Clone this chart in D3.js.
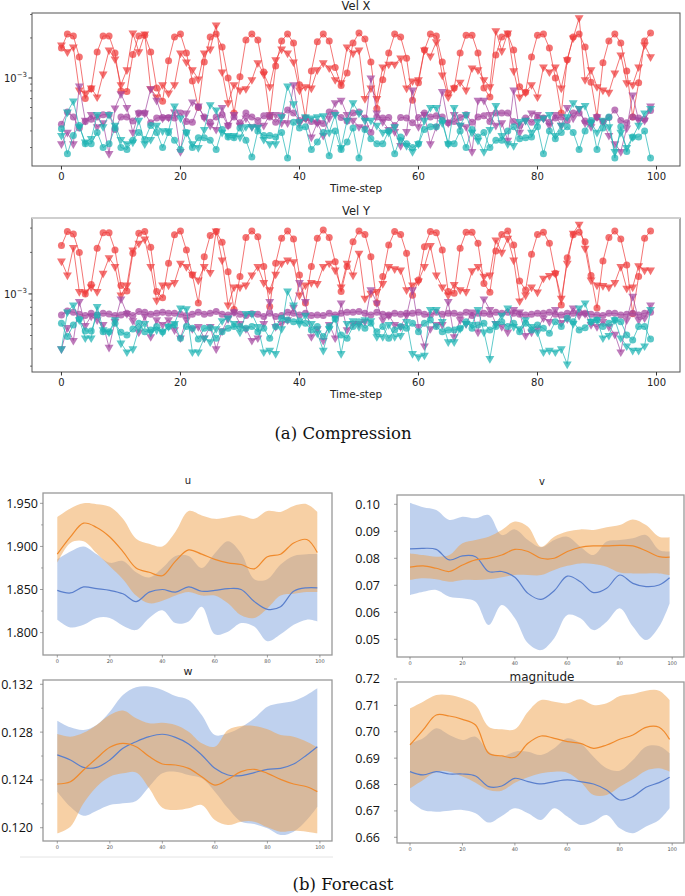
<!DOCTYPE html>
<html><head><meta charset="utf-8">
<script src="https://cdn.jsdelivr.net/npm/d3@7"></script>
<style>body{margin:0;background:#fff}</style>
</head><body>
<svg id="c" width="685" height="896" xmlns="http://www.w3.org/2000/svg"></svg>
<script>
// ---------------- DATA (values in units of 1e-3 for compression panels) ----------------
const timeSteps = d3.range(100);
const xTicksTop = [0, 20, 40, 60, 80, 100];

const redCircX = [1.68,2.14,2.07,1.44,0.70,0.83,1.57,2.07,2.07,1.54,0.80,0.79,1.50,2.07,2.10,1.57,0.84,0.67,1.35,2.03,2.14,1.54,0.95,0.60,1.32,2.03,2.14,1.71,1.0,0.545,1.02,1.93,2.14,1.93,1.11,0.52,1.23,1.90,2.14,1.83,0.89,0.50,1.13,1.87,2.14,1.90,1.20,
0.88,1.09,1.83,2.18,1.96,1.32,0.59,0.97,1.54,2.14,2.03,1.41,0.68,0.92,1.62,2.14,2.07,1.32,0.77,0.84,1.54,2.10,2.10,1.54,0.84,0.72,1.49,2.03,2.14,1.62,0.86,0.78,1.44,2.10,2.14,1.68,1.0,0.545,1.37,2.03,2.14,1.71,0.93,0.51,1.30,1.90,2.14,1.83,1.13,0.51,0.92,1.90,2.18];
const redTriX = [1.77,1.57,1.71,0.81,0.77,0.84,0.72,1.07,1.62,1.39,0.89,1.15,2.18,1.57,2.14,0.83,0.72,0.89,0.77,0.89,1.54,1.32,1.15,0.98,1.54,1.65,2.5,1.11,0.65,0.89,0.81,0.83,0.97,1.30,1.07,0.86,1.37,1.65,1.54,1.32,0.81,0.86,0.84,1.15,1.30,1.19,0.97,
0.92,1.71,1.54,1.62,0.70,0.84,0.70,1.21,1.27,1.27,1.41,0.84,0.95,0.97,1.62,1.46,1.87,1.05,0.72,0.84,0.93,0.81,1.19,1.15,0.97,0.86,2.26,1.60,2.18,1.13,0.72,0.78,0.89,0.72,1.21,1.11,1.21,0.84,1.37,2.0,2.83,0.97,1.15,0.86,0.81,0.78,1.09,1.49,0.92,0.89,1.21,1.77,1.44];
const purpCircX = [0.45,0.555,0.51,0.42,0.47,0.49,0.51,0.53,0.53,0.41,0.51,0.51,0.475,0.545,0.545,0.46,0.50,0.505,0.505,0.50,0.545,0.47,0.465,0.605,0.51,0.465,0.51,0.53,0.44,0.51,0.46,0.545,0.51,0.48,0.52,0.51,0.465,0.52,0.575,0.545,0.48,0.50,0.47,0.465,0.455,0.555,0.545,
0.505,0.475,0.545,0.555,0.50,0.39,0.51,0.50,0.505,0.44,0.505,0.50,0.46,0.505,0.545,0.51,0.52,0.51,0.46,0.47,0.505,0.53,0.465,0.51,0.52,0.47,0.545,0.545,0.545,0.47,0.44,0.50,0.465,0.505,0.50,0.465,0.50,0.51,0.48,0.545,0.545,0.475,0.465,0.51,0.47,0.505,0.575,0.48,0.46,0.51,0.50,0.49,0.57];
const purpTriX = [0.32,0.39,0.32,0.87,0.48,0.53,0.43,0.46,0.27,0.595,0.76,0.60,0.39,0.545,0.545,0.83,0.68,0.50,0.505,0.555,0.28,0.545,0.66,0.615,0.505,0.44,0.41,0.60,0.44,0.53,0.44,0.50,0.43,0.435,0.44,0.53,0.53,0.46,0.46,0.89,0.46,0.50,0.36,0.46,0.37,0.50,0.65,
0.68,0.53,0.48,0.43,0.42,1.0,0.545,0.47,0.41,0.395,0.31,0.395,0.81,0.43,0.53,0.32,0.43,0.79,0.46,0.53,0.44,0.43,0.28,0.68,0.68,0.53,0.44,0.46,0.34,0.81,0.39,0.48,0.545,0.53,0.50,0.44,0.53,0.44,0.60,0.50,0.59,0.46,0.43,0.51,0.47,0.37,0.32,0.28,0.42,0.745,0.48,0.48,0.615];
const cyanCircX = [0.415,0.27,0.37,0.44,0.32,0.32,0.39,0.30,0.32,0.42,0.30,0.29,0.34,0.39,0.345,0.44,0.39,0.30,0.39,0.34,0.29,0.39,0.30,0.355,0.355,0.34,0.29,0.41,0.36,0.355,0.42,0.34,0.255,0.40,0.37,0.37,0.36,0.39,0.25,0.465,0.42,0.43,0.29,0.33,0.39,0.26,0.40,
0.29,0.33,0.42,0.25,0.41,0.35,0.32,0.32,0.40,0.27,0.36,0.32,0.30,0.32,0.41,0.43,0.43,0.48,0.32,0.32,0.40,0.30,0.41,0.36,0.39,0.30,0.34,0.34,0.40,0.43,0.35,0.355,0.36,0.43,0.27,0.40,0.35,0.39,0.43,0.39,0.29,0.40,0.48,0.29,0.42,0.51,0.25,0.43,0.28,0.36,0.36,0.40,0.25];
const cyanTriX = [0.37,0.555,0.67,0.43,0.33,0.35,0.53,0.43,0.53,0.44,0.345,0.32,0.33,0.48,0.32,0.345,0.44,0.40,0.40,0.615,0.50,0.39,0.32,0.30,0.41,0.63,0.575,0.39,0.37,0.37,0.36,0.43,0.43,0.425,0.345,0.32,0.32,0.51,0.87,0.64,0.47,0.51,0.50,0.51,0.52,0.39,0.53,
0.30,0.48,0.65,0.545,0.48,0.48,0.44,0.39,0.39,0.43,0.34,0.31,0.28,0.32,0.48,0.60,0.60,0.46,0.32,0.60,0.44,0.53,0.39,0.34,0.28,0.41,0.62,0.37,0.32,0.31,0.47,0.48,0.39,0.47,0.50,0.53,0.37,0.44,0.51,0.65,0.59,0.62,0.46,0.39,0.48,0.43,0.28,0.39,0.30,0.36,0.44,0.545,0.59];

const redCircY = [2.24,2.83,2.72,2.0,1.0,1.17,2.14,2.78,2.78,2.08,1.15,1.05,1.97,2.75,2.83,2.18,1.04,0.94,1.67,2.68,2.86,2.08,1.37,0.86,1.86,2.65,2.83,2.37,1.45,0.77,1.34,2.56,2.86,2.60,1.58,0.81,1.67,2.53,2.86,2.50,1.37,0.86,1.58,2.53,2.90,2.56,1.71,
1.04,1.58,2.39,2.86,2.70,1.86,0.86,1.34,2.26,2.83,2.70,1.97,0.98,1.26,2.20,2.83,2.78,2.08,1.04,1.01,2.14,2.80,2.80,2.33,1.19,1.03,2.05,2.70,2.86,2.26,1.24,1.07,1.94,2.70,2.80,2.33,1.41,0.83,1.83,2.68,2.80,2.39,1.36,0.79,1.73,2.56,2.86,2.50,1.62,0.72,1.34,2.53,2.86];
const redTriY = [1.73,1.37,2.17,1.04,1.03,1.12,1.04,1.41,1.83,1.58,0.98,1.16,2.08,2.33,2.50,1.58,0.90,1.16,1.16,1.21,1.67,1.58,1.39,1.26,1.58,1.43,2.86,1.76,0.83,1.12,1.12,1.16,1.37,1.58,1.21,1.07,1.39,1.67,1.76,1.71,0.98,1.16,1.21,1.19,1.58,1.67,1.49,
1.12,1.67,1.37,1.97,0.93,1.01,1.04,1.19,1.58,1.52,1.49,1.07,1.16,1.24,1.58,2.24,1.37,1.12,0.98,1.17,1.07,1.04,1.47,1.58,1.34,1.37,2.46,2.0,2.53,1.76,0.89,0.98,1.12,1.03,1.30,1.36,1.41,0.93,1.67,2.75,3.2,2.14,1.26,1.16,1.15,1.12,1.21,1.58,1.10,1.12,1.60,1.49,1.49];
const purpCircY = [0.705,0.753,0.737,0.712,0.697,0.724,0.705,0.724,0.716,0.697,0.705,0.724,0.697,0.745,0.737,0.712,0.724,0.737,0.724,0.724,0.712,0.697,0.712,0.737,0.712,0.724,0.745,0.712,0.705,0.737,0.712,0.697,0.72,0.712,0.686,0.724,0.686,0.697,0.737,0.724,0.705,0.724,0.697,0.705,0.697,0.724,0.705,
0.724,0.737,0.737,0.745,0.724,0.705,0.737,0.712,0.705,0.724,0.712,0.724,0.724,0.737,0.712,0.705,0.737,0.712,0.724,0.724,0.705,0.737,0.697,0.724,0.724,0.712,0.737,0.724,0.737,0.724,0.712,0.705,0.712,0.724,0.724,0.737,0.712,0.705,0.724,0.724,0.737,0.724,0.712,0.705,0.697,0.724,0.724,0.705,0.712,0.724,0.705,0.724,0.737];
const purpTriY = [0.40,0.57,0.46,0.88,0.59,0.69,0.65,0.60,0.41,0.63,0.92,0.72,0.64,0.53,0.69,0.49,0.65,0.60,0.65,0.55,0.48,0.65,0.56,0.58,0.48,0.58,0.40,0.54,0.66,0.74,0.61,0.56,0.46,0.48,0.61,0.88,0.58,0.61,0.65,0.80,1.21,0.88,0.49,0.56,0.46,0.60,0.48,
0.86,0.55,0.61,0.61,0.63,1.07,0.86,0.65,0.70,0.60,0.58,0.70,1.07,0.58,0.42,0.56,0.60,0.60,0.88,0.49,0.65,0.61,0.74,0.53,0.92,0.77,0.61,0.58,0.53,0.77,0.74,0.50,0.53,0.56,0.67,0.63,0.77,0.62,0.66,0.79,0.70,0.72,0.60,0.58,0.63,0.58,0.51,0.38,0.65,0.96,0.65,0.67,0.83];
const cyanCircY = [0.613,0.491,0.596,0.659,0.539,0.539,0.705,0.533,0.533,0.613,0.527,0.505,0.557,0.613,0.533,0.548,0.580,0.533,0.580,0.596,0.477,0.580,0.564,0.472,0.564,0.570,0.477,0.533,0.564,0.580,0.580,0.564,0.580,0.533,0.564,0.477,0.580,0.667,0.648,0.630,0.637,0.613,0.548,0.580,0.491,0.580,0.659,
0.505,0.477,0.580,0.630,0.564,0.613,0.533,0.580,0.477,0.548,0.580,0.564,0.613,0.533,0.613,0.648,0.580,0.533,0.548,0.548,0.564,0.630,0.564,0.596,0.613,0.548,0.580,0.630,0.580,0.613,0.533,0.613,0.548,0.596,0.564,0.519,0.630,0.580,0.667,0.630,0.548,0.570,0.630,0.648,0.580,0.613,0.648,0.630,0.505,0.464,0.580,0.580,0.472];
const cyanTriY = [0.40,0.74,0.83,0.65,0.48,0.48,0.81,0.55,0.53,0.65,0.44,0.38,0.40,0.56,0.61,0.53,0.55,0.53,0.58,0.61,0.79,0.78,0.38,0.38,0.48,0.45,0.56,0.64,0.67,0.61,0.53,0.72,0.72,0.58,0.38,0.39,0.37,0.56,1.05,0.83,0.61,0.70,0.61,0.52,0.39,0.56,0.67,
0.37,0.61,0.64,0.58,0.65,0.64,0.49,0.49,0.60,0.49,0.50,0.63,0.37,0.35,0.36,0.77,0.77,0.63,0.45,0.45,0.56,0.61,0.60,0.77,0.53,0.34,0.61,0.70,0.79,0.58,0.56,0.65,0.58,0.53,0.38,0.39,0.38,0.40,0.31,0.61,0.79,0.86,0.63,0.65,0.48,0.50,0.65,0.48,0.42,0.39,0.39,0.42,0.77];

// ---------------- Forecast data ----------------
const fcSteps = [0,5,10,15,20,25,30,35,40,45,50,55,60,65,70,75,80,85,90,95,99];
const fcTicks = [0,20,40,60,80,100];

const uOrange   = [1.891,1.911,1.927,1.922,1.911,1.894,1.875,1.870,1.866,1.883,1.896,1.891,1.885,1.881,1.879,1.874,1.888,1.891,1.904,1.908,1.893];
const uOrangeHi = [1.934,1.944,1.950,1.949,1.946,1.932,1.909,1.903,1.900,1.917,1.941,1.936,1.932,1.934,1.936,1.932,1.941,1.940,1.947,1.949,1.940];
const uOrangeLo = [1.881,1.904,1.906,1.892,1.877,1.862,1.843,1.834,1.837,1.843,1.847,1.843,1.843,1.834,1.820,1.817,1.828,1.843,1.845,1.847,1.847];
const uBlue     = [1.849,1.846,1.853,1.851,1.849,1.845,1.836,1.847,1.850,1.847,1.853,1.848,1.849,1.851,1.850,1.836,1.827,1.830,1.848,1.852,1.852];
const uBlueHi   = [1.885,1.894,1.900,1.891,1.881,1.883,1.870,1.864,1.875,1.889,1.889,1.875,1.892,1.906,1.892,1.862,1.862,1.879,1.889,1.891,1.891];
const uBlueLo   = [1.815,1.806,1.809,1.817,1.817,1.808,1.803,1.817,1.826,1.811,1.813,1.830,1.798,1.801,1.811,1.807,1.790,1.798,1.809,1.815,1.813];

const vOrange   = [0.0767,0.0772,0.0763,0.0751,0.0775,0.0794,0.0800,0.0812,0.0833,0.0825,0.0800,0.0800,0.0825,0.0841,0.0846,0.0846,0.0848,0.0846,0.0828,0.0806,0.0804];
const vOrangeHi = [0.0818,0.0812,0.0806,0.0812,0.0856,0.0868,0.0880,0.0905,0.0936,0.0917,0.0843,0.0880,0.0899,0.0907,0.0905,0.0915,0.0923,0.0944,0.0923,0.0880,0.0878];
const vOrangeLo = [0.0720,0.0726,0.0722,0.0713,0.0720,0.0720,0.0722,0.0730,0.0738,0.0738,0.0738,0.0757,0.0772,0.0781,0.0779,0.0769,0.0747,0.0744,0.0744,0.0744,0.0738];
const vBlue     = [0.0835,0.0837,0.0833,0.0794,0.0809,0.0806,0.0751,0.0751,0.0730,0.0670,0.0648,0.0680,0.0734,0.0713,0.0673,0.0689,0.0738,0.0707,0.0695,0.0701,0.0728];
const vBlueHi   = [0.1006,0.0989,0.0979,0.0942,0.0954,0.0948,0.0960,0.0886,0.0907,0.0868,0.0841,0.0868,0.0880,0.0843,0.0812,0.0862,0.0868,0.0874,0.0886,0.0831,0.0825];
const vBlueLo   = [0.0664,0.0676,0.0683,0.0658,0.0652,0.0639,0.0553,0.0627,0.0578,0.0485,0.0460,0.0504,0.0590,0.0578,0.0534,0.0565,0.0615,0.0547,0.0497,0.0547,0.0633];

const wOrange   = [0.12366,0.12385,0.12483,0.12581,0.12673,0.12706,0.12678,0.12595,0.12533,0.12525,0.12497,0.12427,0.12357,0.12405,0.12469,0.12489,0.12455,0.12405,0.12366,0.12343,0.12302];
const wOrangeHi = [0.12784,0.12762,0.12795,0.12860,0.12943,0.12980,0.12915,0.12874,0.12879,0.12860,0.12804,0.12706,0.12678,0.12818,0.12851,0.12851,0.12823,0.12776,0.12762,0.12720,0.12673];
const wOrangeLo = [0.11953,0.12009,0.12204,0.12343,0.12427,0.12455,0.12463,0.12330,0.12168,0.12148,0.12162,0.12190,0.12064,0.12023,0.12051,0.12051,0.12003,0.11967,0.11975,0.11967,0.11953];
const wBlue     = [0.12609,0.12567,0.12505,0.12505,0.12567,0.12664,0.12720,0.12762,0.12782,0.12756,0.12701,0.12609,0.12497,0.12441,0.12436,0.12461,0.12489,0.12497,0.12533,0.12609,0.12678];
const wBlueHi   = [0.12896,0.12840,0.12818,0.12860,0.12971,0.13111,0.13175,0.13181,0.13153,0.13102,0.13069,0.12943,0.12776,0.12790,0.12840,0.12915,0.13013,0.13041,0.13060,0.13111,0.13167];
const wBlueLo   = [0.12302,0.12176,0.12101,0.12143,0.12190,0.12204,0.12224,0.12343,0.12455,0.12469,0.12441,0.12413,0.12302,0.12162,0.12051,0.12031,0.11995,0.11939,0.11967,0.12064,0.12176];

const mOrange   = [0.69499,0.70068,0.70636,0.70598,0.70472,0.70257,0.69184,0.69083,0.69032,0.69562,0.69840,0.69752,0.69626,0.69562,0.69373,0.69499,0.69714,0.69878,0.70169,0.70169,0.69714];
const mOrangeHi = [0.70889,0.71141,0.71394,0.71394,0.71267,0.71015,0.70194,0.70093,0.70093,0.70762,0.71204,0.71141,0.71078,0.71230,0.71015,0.71078,0.71356,0.71432,0.71558,0.71558,0.71204];
const mOrangeLo = [0.67857,0.68173,0.68489,0.68489,0.68300,0.68072,0.67794,0.67769,0.68072,0.68274,0.68426,0.68489,0.68451,0.68110,0.67605,0.67605,0.67920,0.68198,0.68527,0.68615,0.68489];
const mBlue     = [0.68489,0.68363,0.68489,0.68400,0.68400,0.68325,0.67920,0.67946,0.68236,0.68110,0.68022,0.68110,0.68173,0.68110,0.68022,0.67794,0.67415,0.67542,0.67895,0.68072,0.68274];
const mBlueHi   = [0.69562,0.69752,0.70131,0.69878,0.69689,0.69815,0.69247,0.69057,0.69247,0.69247,0.69120,0.69373,0.69752,0.69562,0.69057,0.68615,0.68527,0.68931,0.69436,0.69461,0.69184];
const mBlueLo   = [0.67390,0.67036,0.66973,0.67011,0.67036,0.66910,0.66557,0.66809,0.67099,0.66910,0.66658,0.67099,0.66784,0.66468,0.66594,0.66847,0.66342,0.66152,0.66405,0.66658,0.67099];

// ---------------- DRAWING ----------------
const svg = d3.select('#c');
const RED = '#ee3b3b', PURPLE = '#a3479f', CYAN = '#1db3b3';
const SANS = 'DejaVu Sans, sans-serif';

function topPanel(o) {
  const g = svg.append('g');
  const x = d3.scaleLinear().domain([-4.95, 103.95]).range([o.x0, o.x1]);
  const y = d3.scaleLog().domain(o.yDom).range([o.y1, o.y0]);
  const series = [
    {v: o.rc, c: RED, s: 'o'}, {v: o.rt, c: RED, s: 'v'},
    {v: o.pc, c: PURPLE, s: 'o'}, {v: o.pt, c: PURPLE, s: 'v'},
    {v: o.cc, c: CYAN, s: 'o'}, {v: o.ct, c: CYAN, s: 'v'}
  ];
  const line = d3.line().x((d, i) => x(timeSteps[i])).y(d => y(d * 1e-3));
  const tri = d3.symbol(d3.symbolTriangle, 34);
  series.forEach(s => {
    g.append('path').attr('d', line(s.v)).attr('fill', 'none')
      .attr('stroke', s.c).attr('stroke-width', 1).attr('stroke-opacity', 0.7);
    const m = g.append('g').attr('fill', s.c).attr('fill-opacity', 0.72);
    s.v.forEach((d, i) => {
      const px = x(timeSteps[i]), py = y(d * 1e-3);
      if (s.s === 'o') m.append('circle').attr('cx', px).attr('cy', py).attr('r', 3.5);
      else m.append('path').attr('d', tri()).attr('transform', `translate(${px},${py}) rotate(180)`);
    });
  });
  // frame
  g.append('rect').attr('x', o.x0).attr('y', o.y0).attr('width', o.x1 - o.x0).attr('height', o.y1 - o.y0)
    .attr('fill', 'none').attr('stroke', '#555').attr('stroke-width', 1);
  if (o.topLight) g.append('line').attr('x1', o.x0).attr('x2', o.x1).attr('y1', o.y0).attr('y2', o.y0)
    .attr('stroke', '#cfcfcf').attr('stroke-width', 2);
  // x ticks
  xTicksTop.forEach(t => {
    g.append('line').attr('x1', x(t)).attr('x2', x(t)).attr('y1', o.y1).attr('y2', o.y1 + 3.5).attr('stroke', '#333');
    g.append('text').attr('x', x(t)).attr('y', o.y1 + 14).attr('text-anchor', 'middle')
      .attr('font-family', SANS).attr('font-size', 10).attr('fill', '#222').text(t);
  });
  g.append('text').attr('x', (o.x0 + o.x1) / 2).attr('y', o.y1 + 26).attr('text-anchor', 'middle')
    .attr('font-family', SANS).attr('font-size', 10.5).attr('fill', '#222').text('Time-step');
  g.append('text').attr('x', (o.x0 + o.x1) / 2).attr('y', o.y0 - 3).attr('text-anchor', 'middle')
    .attr('font-family', SANS).attr('font-size', 11.5).attr('fill', '#222').text(o.title);
  // y ticks (log)
  const minor = [2e-4,3e-4,4e-4,5e-4,6e-4,7e-4,8e-4,9e-4,2e-3,3e-3].filter(v => v > o.yDom[0] && v < o.yDom[1]);
  minor.forEach(v => g.append('line').attr('x1', o.x0 - 2).attr('x2', o.x0).attr('y1', y(v)).attr('y2', y(v)).attr('stroke', '#333').attr('stroke-width', 0.7));
  g.append('line').attr('x1', o.x0 - 3.5).attr('x2', o.x0).attr('y1', y(1e-3)).attr('y2', y(1e-3)).attr('stroke', '#333');
  const lab = g.append('text').attr('x', o.x0 - 5).attr('y', y(1e-3) + 4).attr('text-anchor', 'end')
    .attr('font-family', SANS).attr('font-size', 10).attr('fill', '#222');
  lab.append('tspan').text('10');
  lab.append('tspan').attr('dy', -5).attr('font-size', 7).text('\u22123');
}

topPanel({x0: 32, x1: 680, y0: 13, y1: 166, yDom: [0.218e-3, 3.08e-3], title: 'Vel X',
  rc: redCircX, rt: redTriX, pc: purpCircX, pt: purpTriX, cc: cyanCircX, ct: cyanTriX});
topPanel({x0: 32, x1: 680, y0: 218, y1: 372, yDom: [0.272e-3, 3.55e-3], title: 'Vel Y', topLight: true,
  rc: redCircY, rt: redTriY, pc: purpCircY, pt: purpTriY, cc: cyanCircY, ct: cyanTriY});

const SERIF = 'DejaVu Serif, serif';
svg.append('text').attr('x', 343).attr('y', 439).attr('text-anchor', 'middle')
  .attr('font-family', SERIF).attr('font-size', 16.5).attr('fill', '#111').text('(a) Compression');

function fcPanel(o) {
  const g = svg.append('g');
  const x = d3.scaleLinear().domain(o.xDom).range([o.x0, o.x1]);
  const y = d3.scaleLinear().domain(o.yDom).range([o.y1, o.y0]);
  const idx = d3.range(fcSteps.length);
  const area = (lo, hi) => d3.area().x(i => x(fcSteps[i])).y0(i => y(lo[i])).y1(i => y(hi[i])).curve(d3.curveCatmullRom)(idx);
  const line = v => d3.line().x(i => x(fcSteps[i])).y(i => y(v[i])).curve(d3.curveCatmullRom)(idx);
  g.append('path').attr('d', area(o.bLo, o.bHi)).attr('fill', '#7fa3dd').attr('fill-opacity', 0.5);
  g.append('path').attr('d', area(o.oLo, o.oHi)).attr('fill', '#f0a24c').attr('fill-opacity', 0.5);
  g.append('path').attr('d', line(o.b)).attr('fill', 'none').attr('stroke', '#5a7fcc').attr('stroke-width', 1.2);
  g.append('path').attr('d', line(o.o)).attr('fill', 'none').attr('stroke', '#f08a2c').attr('stroke-width', 1.2);
  g.append('rect').attr('x', o.x0).attr('y', o.y0).attr('width', o.x1 - o.x0).attr('height', o.y1 - o.y0)
    .attr('fill', 'none').attr('stroke', '#999').attr('stroke-width', 1.3);
  fcTicks.forEach(t => {
    g.append('line').attr('x1', x(t)).attr('x2', x(t)).attr('y1', o.y1).attr('y2', o.y1 + 2.5).attr('stroke', '#777').attr('stroke-width', 0.7);
    g.append('text').attr('x', x(t)).attr('y', o.y1 + 8).attr('text-anchor', 'middle')
      .attr('font-family', SANS).attr('font-size', 5).attr('fill', '#555').text(t);
  });
  o.yTicks.forEach((t, i) => {
    g.append('line').attr('x1', o.x0 - 3).attr('x2', o.x0).attr('y1', y(t)).attr('y2', y(t)).attr('stroke', '#777').attr('stroke-width', 0.7);
    g.append('text').attr('x', o.labX).attr('y', y(t) + 4.5).attr('text-anchor', 'end')
      .attr('font-family', 'Open Sans, sans-serif').attr('font-size', 12.5).attr('fill', '#111').text(o.yLabels[i]);
  });
  (o.yMinor || []).forEach(t => g.append('line').attr('x1', o.x0 - 2).attr('x2', o.x0).attr('y1', y(t)).attr('y2', y(t)).attr('stroke', '#777').attr('stroke-width', 0.6));
  g.append('text').attr('x', o.titleX).attr('y', o.titleY).attr('text-anchor', 'middle')
    .attr('font-family', SANS).attr('font-size', o.titleSize).attr('fill', '#222').text(o.title);
}

fcPanel({x0: 43, x1: 332, y0: 493, y1: 655, xDom: [-5.44, 104.6], yDom: [1.774, 1.962],
  yTicks: [1.80, 1.85, 1.90, 1.95], yLabels: ['1.800', '1.850', '1.900', '1.950'], yMinor: [1.825, 1.875, 1.925], labX: 38,
  title: 'u', titleX: 188, titleY: 484, titleSize: 10,
  o: uOrange, oHi: uOrangeHi, oLo: uOrangeLo, b: uBlue, bHi: uBlueHi, bLo: uBlueLo});
fcPanel({x0: 397, x1: 684, y0: 495, y1: 657, xDom: [-4.96, 104.5], yDom: [0.04344, 0.10344],
  yTicks: [0.05, 0.06, 0.07, 0.08, 0.09, 0.10], yLabels: ['0.05', '0.06', '0.07', '0.08', '0.09', '0.10'], labX: 380,
  title: 'v', titleX: 542, titleY: 485, titleSize: 10,
  o: vOrange, oHi: vOrangeHi, oLo: vOrangeLo, b: vBlue, bHi: vBlueHi, bLo: vBlueLo});
fcPanel({x0: 43, x1: 332, y0: 680, y1: 841, xDom: [-5.44, 104.6], yDom: [0.11889, 0.13236],
  yTicks: [0.120, 0.124, 0.128, 0.132], yLabels: ['0.120', '0.124', '0.128', '0.132'], yMinor: [0.122, 0.126, 0.130], labX: 33,
  title: 'w', titleX: 188, titleY: 675, titleSize: 11,
  o: wOrange, oHi: wOrangeHi, oLo: wOrangeLo, b: wBlue, bHi: wBlueHi, bLo: wBlueLo});
fcPanel({x0: 397, x1: 684, y0: 682, y1: 843, xDom: [-4.96, 104.5], yDom: [0.65784, 0.71886],
  yTicks: [0.66, 0.67, 0.68, 0.69, 0.70, 0.71, 0.72], yLabels: ['0.66', '0.67', '0.68', '0.69', '0.70', '0.71', '0.72'], labX: 380,
  title: 'magnitude', titleX: 542, titleY: 681, titleSize: 12,
  o: mOrange, oHi: mOrangeHi, oLo: mOrangeLo, b: mBlue, bHi: mBlueHi, bLo: mBlueLo});

svg.append('line').attr('x1', 20).attr('x2', 333).attr('y1', 857).attr('y2', 857).attr('stroke', '#e4e4e4').attr('stroke-width', 1);
svg.append('text').attr('x', 343).attr('y', 890).attr('text-anchor', 'middle')
  .attr('font-family', SERIF).attr('font-size', 16.5).attr('fill', '#111').text('(b) Forecast');
</script>
</body></html>
